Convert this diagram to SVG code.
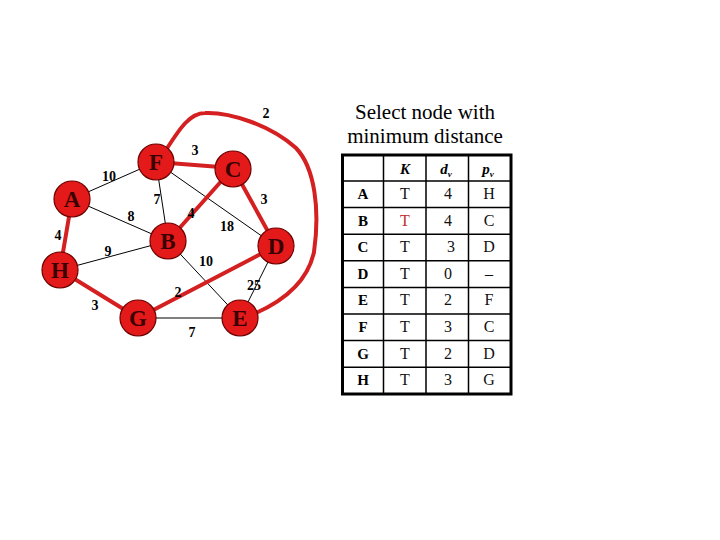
<svg xmlns="http://www.w3.org/2000/svg" width="720" height="540" viewBox="0 0 720 540">
<style>
.thin{stroke:#000;stroke-width:1;fill:none}
.red{stroke:#d42020;stroke-width:4;fill:none;stroke-linecap:round}
.node circle{fill:#e41a1a;stroke:#6a0000;stroke-width:1.2}
.node text{font-family:"Liberation Serif",serif;font-weight:bold;font-size:23px;fill:#3a0000;text-anchor:middle}
.w{font-family:"Liberation Serif",serif;font-weight:bold;font-size:14px;fill:#000;text-anchor:middle}
.title{font-family:"Liberation Serif",serif;font-size:21px;fill:#000;text-anchor:middle}
.rl{font-family:"Liberation Serif",serif;font-weight:bold;font-size:15px;fill:#000;text-anchor:middle}
.v{font-family:"Liberation Serif",serif;font-size:16px;fill:#111;text-anchor:middle}
.hd{font-family:"Liberation Serif",serif;font-weight:bold;font-style:italic;font-size:15px;fill:#000;text-anchor:middle}
.grid{stroke:#000;stroke-width:1.5;fill:none}
</style>
<rect width="720" height="540" fill="#fff"/>
<g id="connectors">
<line class="thin" x1="72" y1="199" x2="156" y2="162"/>
<line class="thin" x1="72" y1="199" x2="168" y2="241"/>
<line class="thin" x1="156" y1="162" x2="168" y2="241"/>
<line class="thin" x1="156" y1="162" x2="276" y2="246"/>
<line class="thin" x1="60" y1="270" x2="168" y2="241"/>
<line class="thin" x1="168" y1="241" x2="240" y2="318"/>
<line class="thin" x1="276" y1="246" x2="240" y2="318"/>
<line class="thin" x1="138" y1="318" x2="240" y2="318"/>
<line class="red" x1="156" y1="162" x2="233" y2="168"/>
<line class="red" x1="233" y1="168" x2="168" y2="241"/>
<line class="red" x1="233" y1="168" x2="276" y2="246"/>
<line class="red" x1="72" y1="199" x2="60" y2="270"/>
<line class="red" x1="60" y1="270" x2="138" y2="318"/>
<line class="red" x1="138" y1="318" x2="276" y2="246"/>
<path class="red" d="M166,150 C180,128 190,113 205,113 C230,112 270,125 296,148 C315,168 320,210 314,252 C308,280 285,300 256,313"/>
</g>
<g id="edge-labels">
<text class="w" x="266" y="118">2</text>
<text class="w" x="195" y="155">3</text>
<text class="w" x="109" y="181">10</text>
<text class="w" x="157" y="204">7</text>
<text class="w" x="131" y="221">8</text>
<text class="w" x="191" y="218">4</text>
<text class="w" x="264" y="204">3</text>
<text class="w" x="227" y="231">18</text>
<text class="w" x="58" y="240">4</text>
<text class="w" x="108" y="256">9</text>
<text class="w" x="206" y="266">10</text>
<text class="w" x="178" y="297">2</text>
<text class="w" x="254" y="290">25</text>
<text class="w" x="95" y="310">3</text>
<text class="w" x="192" y="337">7</text>
</g>
<g id="node-F" class="node"><circle cx="156" cy="162" r="18"/><text x="156" y="170">F</text></g>
<g id="node-C" class="node"><circle cx="233" cy="169" r="18"/><text x="233" y="177">C</text></g>
<g id="node-A" class="node"><circle cx="72" cy="199" r="18"/><text x="72" y="207">A</text></g>
<g id="node-B" class="node"><circle cx="168" cy="241" r="18"/><text x="168" y="249">B</text></g>
<g id="node-D" class="node"><circle cx="276" cy="246" r="18"/><text x="276" y="254">D</text></g>
<g id="node-H" class="node"><circle cx="60" cy="270" r="18"/><text x="60" y="278">H</text></g>
<g id="node-G" class="node"><circle cx="138" cy="318" r="18"/><text x="138" y="326">G</text></g>
<g id="node-E" class="node"><circle cx="240" cy="318" r="18"/><text x="240" y="326">E</text></g>
<g id="table">
<text class="title" x="425" y="119">Select node with</text>
<text class="title" x="425" y="143">minimum distance</text>
<rect x="342.5" y="155" width="168.5" height="239" fill="none" stroke="#000" stroke-width="3"/>
<path class="grid" d="M383.5,155V394M426,155V394M468.5,155V394M342.5,181H511M342.5,207.6H511M342.5,234.2H511M342.5,260.8H511M342.5,287.4H511M342.5,314H511M342.5,340.6H511M342.5,367.2H511"/>
<text class="hd" x="405" y="174">K</text>
<text class="hd" x="446" y="174">d<tspan font-size="9" dy="3">v</tspan></text>
<text class="hd" x="488" y="174">p<tspan font-size="9" dy="3">v</tspan></text>
<g>
<text class="rl" x="363" y="199">A</text><text class="v" x="405" y="199">T</text><text class="v" x="448" y="199">4</text><text class="v" x="489" y="199">H</text>
<text class="rl" x="363" y="226">B</text><text class="v" x="405" y="226" style="fill:#c03030">T</text><text class="v" x="448" y="226">4</text><text class="v" x="489" y="226">C</text>
<text class="rl" x="363" y="252">C</text><text class="v" x="405" y="252">T</text><text class="v" x="451" y="252">3</text><text class="v" x="489" y="252">D</text>
<text class="rl" x="363" y="279">D</text><text class="v" x="405" y="279">T</text><text class="v" x="448" y="279">0</text><text class="v" x="489" y="279">–</text>
<text class="rl" x="363" y="305">E</text><text class="v" x="405" y="305">T</text><text class="v" x="448" y="305">2</text><text class="v" x="489" y="305">F</text>
<text class="rl" x="363" y="332">F</text><text class="v" x="405" y="332">T</text><text class="v" x="448" y="332">3</text><text class="v" x="489" y="332">C</text>
<text class="rl" x="363" y="359">G</text><text class="v" x="405" y="359">T</text><text class="v" x="448" y="359">2</text><text class="v" x="489" y="359">D</text>
<text class="rl" x="363" y="385">H</text><text class="v" x="405" y="385">T</text><text class="v" x="448" y="385">3</text><text class="v" x="489" y="385">G</text>
</g>
</g>
</svg>
